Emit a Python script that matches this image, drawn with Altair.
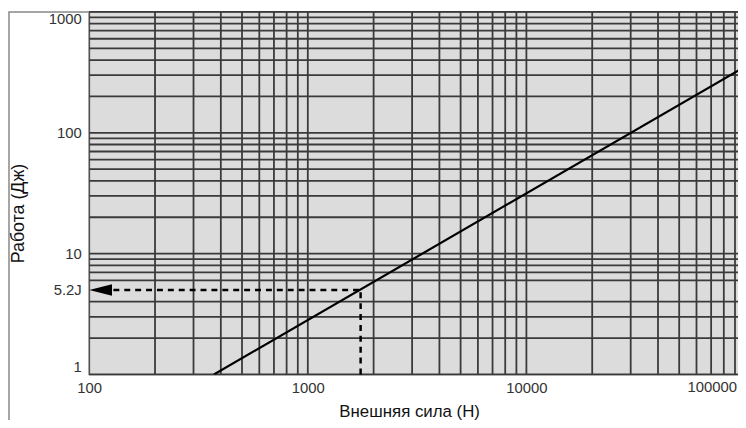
import altair as alt
import pandas as pd

# grid values (the 5 J line is replaced by the dashed reading line)
x_grid = [100, 200, 300, 400, 500, 600, 700, 800, 900,
          1000, 2000, 3000, 4000, 5000, 6000, 7000, 8000, 9000,
          10000, 20000, 30000, 40000, 50000, 60000, 70000, 80000, 90000, 100000]
y_grid = [1, 2, 3, 4, 6, 7, 8, 9,
          10, 20, 30, 40, 50, 60, 70, 80, 90,
          100, 200, 300, 400, 500, 600, 700, 800, 900, 1000]
x_ticks = [100, 1000, 10000]
x_edge_tick = [100000]
y_ticks = [1, 5, 10, 100, 1000]
reading_label = "5.2J"

# main curve: force (N) -> work (J)
force = [372, 100000]
work = [1, 353]

# annotation: reading line
read_force = [1744]
read_work = [5]
arrow_force = [100]
dash_start = [115]

FONT = "Liberation Sans, Arial, sans-serif"

xs = alt.Scale(type="log", domain=[100, 92900], nice=False)
ys = alt.Scale(type="log", domain=[1, 1000], nice=False)

xaxis = alt.Axis(values=x_ticks, format="d", grid=False, ticks=False, domain=False,
                 labelFlush=False, labelPadding=6, labelFontSize=15, labelColor="#333",
                 labelFont=FONT, title="Внешняя сила (Н)", titleFont=FONT,
                 titleFontSize=17, titleFontWeight="normal", titleColor="#111",
                 titleX=323, titleY=37, titleBaseline="middle")
yaxis = alt.Axis(values=y_ticks,
                 labelExpr=f"datum.value == 5 ? '{reading_label}' : format(datum.value, 'd')",
                 grid=False, ticks=False, domain=False, labelFlush=True, labelPadding=8,
                 labelFontSize=15, labelColor="#333", labelFont=FONT,
                 title="Работа (Дж)", titleFont=FONT, titleFontSize=18,
                 titleFontWeight="normal", titleColor="#111",
                 titleX=-71, titleY=203, titleAngle=-90, titleBaseline="middle", titleAlign="center")

base_axes = alt.Chart(pd.DataFrame({"F": x_ticks[:1], "W": y_ticks[:1]})).mark_point(opacity=0).encode(
    x=alt.X("F:Q", scale=xs, axis=xaxis),
    y=alt.Y("W:Q", scale=ys, axis=yaxis),
)

edge_label = alt.Chart(pd.DataFrame({"F": x_edge_tick})).mark_text(
    baseline="top", align="right", dx=-8, fontSize=15, color="#333", font=FONT, clip=False).encode(
    x=alt.X("F:Q", scale=xs), y=alt.value(372), text=alt.Text("F:Q", format="d")
)

panel = alt.Chart(pd.DataFrame({"F0": [100], "F1": [100000], "W0": [1], "W1": [1000]})).mark_rect(
    color="#dcdcdc", clip=True).encode(
    x=alt.X("F0:Q", scale=xs), x2="F1:Q", y=alt.Y("W0:Q", scale=ys), y2="W1:Q"
)

vgrid = alt.Chart(pd.DataFrame({"F": x_grid})).mark_rule(color="#3a3a3a", strokeWidth=1.8, clip=True).encode(
    x=alt.X("F:Q", scale=xs)
)
hgrid = alt.Chart(pd.DataFrame({"W": y_grid})).mark_rule(color="#3a3a3a", strokeWidth=1.8).encode(
    y=alt.Y("W:Q", scale=ys)
)

curve = alt.Chart(pd.DataFrame({"F": force, "W": work})).mark_line(
    color="#000", strokeWidth=2.2, clip=True).encode(
    x=alt.X("F:Q", scale=xs), y=alt.Y("W:Q", scale=ys)
)

vdash = alt.Chart(pd.DataFrame({"F": read_force, "W0": [1], "W": read_work})).mark_rule(
    color="#000", strokeWidth=2.5, strokeDash=[6, 5]).encode(
    x=alt.X("F:Q", scale=xs), y=alt.Y("W0:Q", scale=ys), y2="W:Q"
)
hdash = alt.Chart(pd.DataFrame({"F0": dash_start, "F": read_force, "W": read_work})).mark_rule(
    color="#000", strokeWidth=2.5, strokeDash=[6, 5]).encode(
    x=alt.X("F0:Q", scale=xs), x2="F:Q", y=alt.Y("W:Q", scale=ys)
)
arrow = alt.Chart(pd.DataFrame({"F": arrow_force, "W": read_work})).mark_point(
    shape="M 0 0 L 2 -0.5 L 2 0.5 Z", size=529, filled=True, color="#000", opacity=1).encode(
    x=alt.X("F:Q", scale=xs), y=alt.Y("W:Q", scale=ys)
)

frame = alt.Chart(pd.DataFrame({"a": [0]})).mark_rect(
    filled=False, stroke="#888", strokeWidth=1.5, clip=False).encode(
    x=alt.value(-81), x2=alt.value(700), y=alt.value(0), y2=alt.value(430)
)

chart = alt.layer(panel, frame, vgrid, hgrid, curve, vdash, hdash, arrow, edge_label, base_axes).properties(
    width=655, height=366,
    autosize=alt.AutoSizeParams(type="none"),
    padding={"left": 82, "top": 2, "right": 0, "bottom": 44},
    background="white",
).configure_view(
    stroke="#555", strokeWidth=1.5
)

chart.save("out.html", embed_options={"renderer": "svg", "actions": False})
